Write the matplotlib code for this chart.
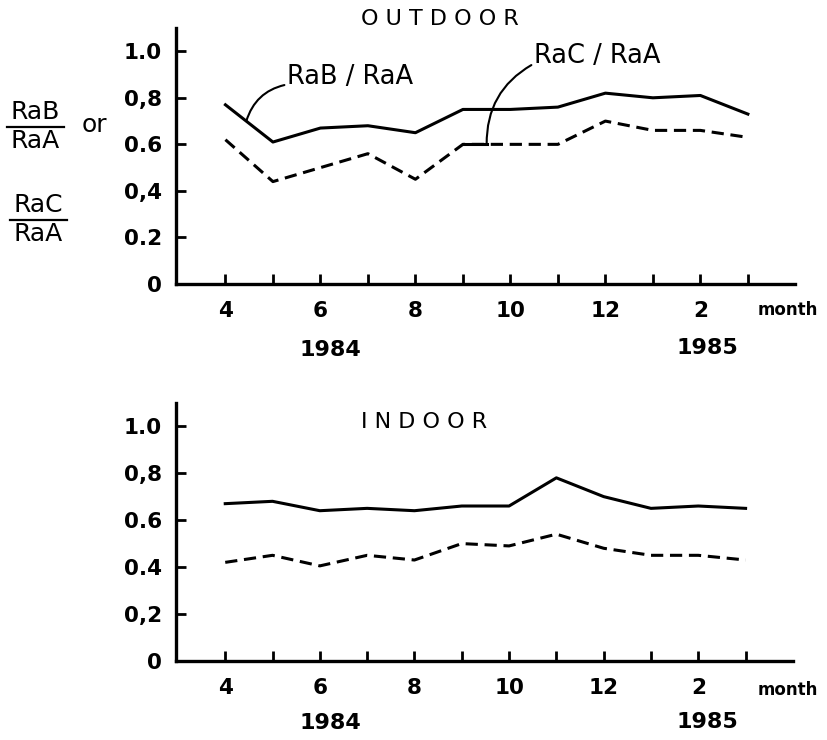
import numpy as np
import matplotlib
matplotlib.use("Agg")
import matplotlib.pyplot as plt
from matplotlib.lines import Line2D

# months Apr 1984 .. Mar 1985
months = [4, 5, 6, 7, 8, 9, 10, 11, 12, 1, 2, 3]
tick_labels = ['4', '', '6', '', '8', '', '10', '', '12', '', '2', '']

# outdoor
out_rab = [0.77, 0.61, 0.67, 0.68, 0.65, 0.75, 0.75, 0.76, 0.82, 0.80, 0.81, 0.73]
out_rac = [0.62, 0.44, 0.50, 0.56, 0.45, 0.60, 0.60, 0.60, 0.70, 0.66, 0.66, 0.63]

# indoor
in_rab = [0.67, 0.68, 0.64, 0.65, 0.64, 0.66, 0.66, 0.78, 0.70, 0.65, 0.66, 0.65]
in_rac = [0.42, 0.45, 0.405, 0.45, 0.43, 0.50, 0.49, 0.54, 0.48, 0.45, 0.45, 0.43]

yticks = [0, 0.2, 0.4, 0.6, 0.8, 1.0]
out_ylabels = ['0', '0.2', '0,4', '0.6', '0,8', '1.0']
in_ylabels = ['0', '0,2', '0.4', '0.6', '0,8', '1.0']

x = np.arange(4, 4 + len(months))

fig = plt.figure(figsize=(8.28, 7.4), dpi=100)
ax1 = fig.add_axes([0.2126, 0.6162, 0.748, 0.346])
ax2 = fig.add_axes([0.2126, 0.1068, 0.745, 0.349])


def style(ax, ylabels):
    ax.set_xlim(2.96, 16.0)
    ax.set_ylim(0, 1.10)
    for s in ['top', 'right']:
        ax.spines[s].set_visible(False)
    for s in ['left', 'bottom']:
        ax.spines[s].set_linewidth(2.4)
    ax.set_yticks(yticks)
    ax.set_yticklabels(ylabels, fontsize=15.5, fontweight='bold')
    ax.set_xticks(x)
    ax.set_xticklabels(tick_labels, fontsize=15.5, fontweight='bold')
    ax.tick_params(axis='both', direction='in', length=7, width=2)
    ax.tick_params(axis='x', pad=12)
    ax.tick_params(axis='y', pad=10)


dash = (0, (4, 2.2))
ax1.plot(x, out_rab, color='black', lw=2.2)
ax1.plot(x, out_rac, color='black', lw=2.2, ls=dash)
style(ax1, out_ylabels)

ax2.plot(x, in_rab, color='black', lw=2.2)
ax2.plot(x, in_rac, color='black', lw=2.2, ls=dash)
style(ax2, in_ylabels)

# titles
fig.text(440 / 828, 1 - 19 / 740, 'O U T D O O R', ha='center', va='center',
         fontsize=16)
fig.text(424 / 828, 1 - 422 / 740, 'I N D O O R', ha='center', va='center',
         fontsize=16)

# series labels with leader lines
ax1.annotate('RaB / RaA', xy=(4.44, 0.70), xytext=(5.3, 0.835),
             fontsize=18.5, ha='left', va='bottom',
             arrowprops=dict(arrowstyle='-', lw=1.5, color='black',
                             connectionstyle='arc3,rad=0.3',
                             shrinkA=0, shrinkB=0, relpos=(0, 0.2)))
ax1.annotate('RaC / RaA', xy=(9.5, 0.60), xytext=(10.5, 0.925),
             fontsize=18.5, ha='left', va='bottom',
             arrowprops=dict(arrowstyle='-', lw=1.5, color='black',
                             connectionstyle='arc3,rad=0.3',
                             shrinkA=0, shrinkB=0, relpos=(0, 0.2)))
ax1.plot([9, 9.5], [0.60, 0.60], color='black', lw=2.2)

# y label fractions
fig.text(35 / 828, 1 - 112 / 740, 'RaB', ha='center', va='center', fontsize=18)
fig.text(35 / 828, 1 - 141 / 740, 'RaA', ha='center', va='center', fontsize=18)
fig.add_artist(Line2D([7 / 828, 64 / 828], [1 - 127 / 740, 1 - 127 / 740],
                      color='black', lw=1.6))
fig.text(94 / 828, 1 - 125 / 740, 'or', ha='center', va='center', fontsize=18)
fig.text(38 / 828, 1 - 205 / 740, 'RaC', ha='center', va='center', fontsize=18)
fig.text(38 / 828, 1 - 234 / 740, 'RaA', ha='center', va='center', fontsize=18)
fig.add_artist(Line2D([10 / 828, 67 / 828], [1 - 220 / 740, 1 - 220 / 740],
                      color='black', lw=1.6))

# month / year labels
for ypix, y1, y2 in [(310, 350, 348), (690, 723, 722)]:
    fig.text(788 / 828, 1 - ypix / 740, 'month', ha='center', va='center',
             fontsize=12, fontweight='bold')
    fig.text(330 / 828, 1 - y1 / 740, '1984', ha='center', va='center',
             fontsize=16, fontweight='bold')
    fig.text(707 / 828, 1 - y2 / 740, '1985', ha='center', va='center',
             fontsize=16, fontweight='bold')

fig.savefig('out.png', dpi=100)
